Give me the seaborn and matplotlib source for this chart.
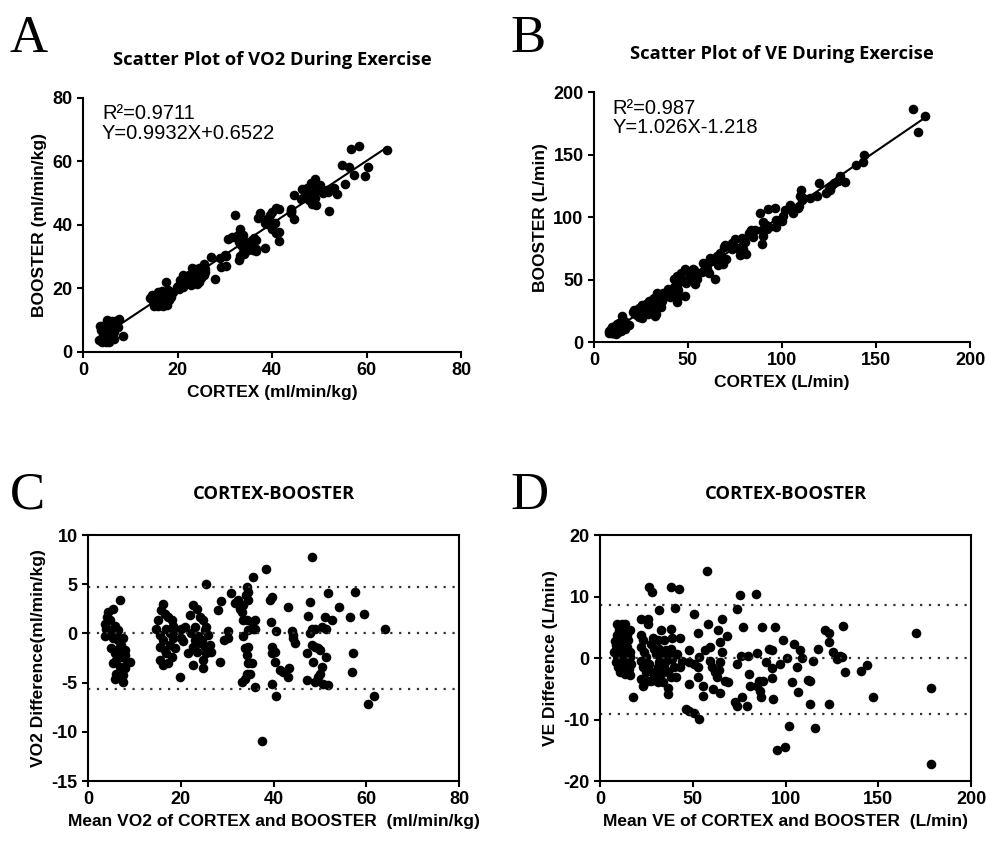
import matplotlib
matplotlib.use("Agg")
import matplotlib.pyplot as plt
import seaborn as sns
import pandas as pd

# VO2 (ml/min/kg): mean of CORTEX and BOOSTER, and CORTEX - BOOSTER
vo2_mean = [
    6.8, 5.4, 4.3, 4.0, 3.6, 3.8, 3.6, 4.7, 5.8, 6.1, 5.4, 6.5, 7.2, 7.6, 5.0, 5.8, 6.8,
    7.9, 6.1, 7.2, 5.4, 6.8, 8.3, 9.0, 7.9, 6.1, 5.8, 7.6, 7.6, 4.7, 6.5, 5.0, 6.8, 7.9,
    14.7, 15.5, 16.2, 15.8, 16.5, 17.3, 18.0, 16.9, 17.6, 16.2, 15.5, 16.5, 17.6, 18.3,
    19.0, 15.5, 16.2, 17.3, 18.0, 16.9, 18.7, 18.3, 20.1, 19.8, 20.1, 20.9, 20.5, 15.1,
    21.6, 21.9, 22.7, 23.4, 24.1, 23.0, 22.3, 23.7, 24.1, 22.7, 23.0, 24.8, 25.2, 25.5,
    25.9, 25.2, 26.3, 25.5, 24.8, 22.7, 24.8, 25.5, 24.5, 23.4, 26.6,
    28.1, 28.6, 28.5, 29.3, 30.2, 30.2, 30.9, 31.7, 32.4, 32.7, 33.5, 33.1, 34.2, 34.5,
    34.0, 34.5, 35.6, 33.5, 34.2, 35.3, 36.0, 35.6, 34.5, 33.5, 33.8, 34.5, 34.2, 34.5,
    35.3, 34.2, 34.9, 33.1, 33.8, 36.0, 36.0, 38.3, 39.2, 39.6, 39.4, 39.6, 39.6, 40.3,
    40.3, 40.6, 39.6, 40.6, 41.4, 42.0, 43.2, 43.0, 43.3, 43.9, 44.2, 44.2, 44.6, 37.6,
    48.2, 47.8, 47.5, 47.8, 48.2, 48.2, 48.9, 47.1, 48.4, 47.1, 48.9, 48.9, 49.6, 50.0,
    49.6, 50.0, 50.4, 50.4, 50.7, 51.1, 51.4, 51.8, 51.4, 51.8, 52.5, 54.2, 56.5, 57.5,
    57.2, 56.8, 59.4, 60.4, 61.7, 64.0,
]
vo2_diff = [
    3.4, 2.5, 2.2, 1.7, 1.0, 0.5, -0.3, 0.3, 0.8, 0.0, -0.5, -0.7, -1.2, -0.5, -1.5, -2.0, -1.9,
    -1.7, -2.7, -2.4, -3.0, -3.4, -2.9, -2.9, -3.5, -4.1, -4.6, -4.2, -4.9, 1.4, 0.3, -0.2, -1.4, -2.2,
    0.5, -0.2, 3.0, 2.4, 2.0, 1.7, 1.4, 0.5, 0.0, -0.7, -1.4, -1.7, -1.2, -0.5,
    0.3, -2.7, -3.2, -3.0, -2.4, -2.0, -1.5, 0.8, 0.5, -4.4, -0.5, 0.7, -0.8, 1.4,
    -2.0, 1.9, 2.9, 2.5, 1.7, 0.7, 0.0, -0.3, -1.0, -1.4, -0.7, 1.4, 0.3, 0.7,
    -0.2, -1.4, -1.2, -2.0, -2.7, -3.2, -3.5, 5.0, -0.7, -1.9, -1.9,
    2.4, 3.3, -2.9, -0.7, 0.2, -0.5, 4.1, 3.1, 3.4, 2.5, 2.9, 2.2, 4.7, 4.2,
    3.9, 3.4, 5.7, 1.4, 1.4, 1.2, 1.4, 0.5, 0.3, -0.3, -1.5, -1.4, -2.2, -3.0,
    -3.0, -4.1, -4.1, -4.9, -4.6, -5.4, 0.5, 6.5, 3.4, 3.7, 1.2, -1.4, -2.0, -1.9,
    -2.9, 0.2, -5.1, -6.4, -3.7, -3.9, 2.7, -4.4, -3.5, 0.2, -0.2, -0.5, -1.0, -10.9,
    7.8, 3.2, 1.8, 0.0, 0.5, -1.2, -1.4, -2.0, -2.9, -4.7, -4.9, 0.5, -1.5, -1.7,
    -4.4, -4.1, 0.7, -3.4, -5.1, 1.7, 0.5, 4.1, -2.4, -5.2, 1.4, 2.7, 1.7, 4.2,
    -2.0, -3.9, 2.0, -7.2, -6.4, 0.5,
]
vo2_loa = [4.7, 0.0, -5.65]

# VE (L/min): mean of CORTEX and BOOSTER, and CORTEX - BOOSTER
ve_mean = [
    9.0, 11.7, 13.5, 16.2, 9.0, 9.9, 8.6, 8.6, 9.0, 8.6, 11.1, 12.2, 11.7, 11.7, 12.6,
    13.5, 14.4, 13.5, 14.4, 14.0, 14.7, 11.7, 10.8, 13.5, 16.2, 16.2, 16.5, 16.2, 10.4,
    12.6, 10.8, 15.3, 9.9, 18.0, 7.5, 10.0, 12.8, 15.0, 9.5, 12.0, 14.2, 10.5, 13.0, 8.3, 15.5,
    22.2, 25.7, 25.7, 26.6, 27.8, 22.2, 23.0, 22.2, 23.9, 24.8, 22.2, 23.0, 22.2, 23.4,
    25.7, 24.8, 26.6, 27.5, 28.4, 29.3, 30.1, 28.4, 29.3, 27.5, 31.9, 31.0, 31.9, 32.8,
    31.9, 31.0, 32.8, 31.0, 33.7, 34.6, 35.5, 35.5, 34.6, 36.4, 36.4, 36.4, 38.1, 39.0,
    38.1, 38.1, 42.6, 40.4, 39.0, 39.9, 40.8, 38.1, 43.3, 43.3, 44.3, 37.2, 41.7, 32.8,
    48.2, 50.4, 48.2, 48.2, 50.9, 46.5, 48.2, 50.9, 53.2, 52.8, 52.8, 53.3, 52.8, 55.6,
    56.6, 55.6, 57.4, 59.2, 58.3, 59.2, 60.2, 60.7, 62.0, 62.9, 63.8, 64.6, 64.3, 64.6,
    65.5, 66.0, 64.6, 68.3, 67.4, 69.2,
    72.5, 73.7, 73.7, 73.7, 75.5, 75.8, 76.4, 76.9, 79.0, 80.0, 80.5, 80.9, 83.9, 84.4,
    84.8, 85.9, 86.3, 86.7, 87.2, 87.7, 89.5, 91.3, 92.5, 92.5, 92.5, 93.0, 94.4, 95.6,
    97.0, 98.5, 99.7, 100.6, 101.6,
    103.4, 104.6, 106.0, 106.9, 107.8, 109.0, 112.3, 113.2, 113.2, 115.0, 115.9, 117.7,
    121.3, 123.6, 123.6, 123.6, 125.8, 127.6, 129.4, 130.8, 130.2, 132.1, 140.6, 143.7,
    147.0, 170.2, 178.3, 178.3,
]
ve_diff = [
    5.5, 5.5, 5.5, 4.6, 3.7, 2.9, 2.1, 1.3, 0.4, -0.7, 4.0, 3.2, 2.1, 1.0, 0.2,
    4.5, 3.7, 2.6, 1.8, 0.8, -0.4, -0.9, -2.3, -2.6, -2.8, 1.0, -0.9, 0.2, 5.1,
    1.5, 2.6, 2.9, -0.1, -6.4, 1.0, 4.6, 4.2, 0.3, -1.4, -1.8, -1.3, 1.7, -0.3, 2.8, -1.8,
    6.3, 6.3, 5.6, 11.6, 10.8, 3.7, 2.9, 1.8, 1.0, 0.2, -0.4, -1.5, -3.4, -4.5,
    -3.7, -2.3, -0.9, 2.3, 3.2, 1.5, 0.7, -2.3, -3.1, -3.7, 7.8, 2.9, 1.5, 0.4,
    -0.7, -1.5, -2.6, -3.9, -3.9, 2.9, 1.3, -0.4, -1.5, -2.3, -4.8, -5.8, 4.8, 3.2,
    1.5, 11.6, 11.3, 8.2, -0.1, -1.5, -3.1, -3.1, 3.2, -1.5, -0.4, 0.2, 0.7, 4.5,
    1.3, 7.1, -0.7, -4.2, -0.9, -8.3, -8.6, -8.9, -9.9, 4.0, -1.5, 0.2, -3.1, -6.1,
    1.3, -4.5, 14.1, 1.8, 5.5, -0.4, -1.5, -5.0, -2.3, -3.1, 4.5, 2.6, -2.0, -5.7,
    6.3, 1.0, -0.7, 3.6, -3.7, -3.9,
    -7.2, 7.9, -0.9, -7.8, 10.3, 0.3, -6.4, 5.1, -7.8, 0.3, -2.6, -4.5, 10.4, 0.8,
    -4.5, -3.7, -5.3, -6.4, 5.1, -3.7, -0.7, 1.5, 1.3, -1.7, -3.2, -6.7, 5.0, -14.9,
    -0.9, 3.0, -14.4, 0.0, -11.0,
    -3.9, 2.3, -1.5, -5.6, 1.3, 0.0, -3.6, -3.8, -7.5, -0.4, -11.3, 1.5,
    4.5, 4.0, 2.6, -7.5, 1.0, -0.1, 0.4, 5.2, 0.2, -2.3, -2.1, -1.2,
    -6.3, 4.1, -4.9, -17.3,
]
ve_loa = [8.7, 0.0, -9.1]

vo2 = pd.DataFrame({"mean": vo2_mean, "diff": vo2_diff})
vo2["cortex"] = vo2["mean"] + vo2["diff"] / 2
vo2["booster"] = vo2["mean"] - vo2["diff"] / 2
ve = pd.DataFrame({"mean": ve_mean, "diff": ve_diff})
ve["cortex"] = ve["mean"] + ve["diff"] / 2
ve["booster"] = ve["mean"] - ve["diff"] / 2

sns.set_theme(style="ticks")
plt.rcParams["font.family"] = ["Liberation Sans", "DejaVu Sans"]
plt.rcParams["font.weight"] = "bold"
plt.rcParams["axes.labelweight"] = "bold"
plt.rcParams["axes.unicode_minus"] = False
for key in ["text.color", "axes.labelcolor", "axes.edgecolor", "xtick.color", "ytick.color"]:
    plt.rcParams[key] = "black"
plt.rcParams["axes.linewidth"] = 1.5
plt.rcParams["xtick.major.width"] = 1.5
plt.rcParams["ytick.major.width"] = 1.5
plt.rcParams["xtick.major.size"] = 4
plt.rcParams["ytick.major.size"] = 4
plt.rcParams["xtick.labelsize"] = 13
plt.rcParams["ytick.labelsize"] = 13
plt.rcParams["axes.labelsize"] = 12.5

fig = plt.figure(figsize=(9.87, 8.41), dpi=100)
ax_a = fig.add_axes([0.0841, 0.5815, 0.383, 0.302])
ax_b = fig.add_axes([0.6018, 0.5933, 0.381, 0.297])
ax_c = fig.add_axes([0.0892, 0.0713, 0.376, 0.2925])
ax_d = fig.add_axes([0.6079, 0.0713, 0.376, 0.2925])

title_kw = dict(family="Open Sans", fontweight="bold", fontsize=13.2)
dot_kw = dict(color="black", s=48, linewidth=0, legend=False)

# scatter plots with fitted line
for ax, df, lim, step, unit, title, stats in [
    (ax_a, vo2, 80, 20, "(ml/min/kg)", "Scatter Plot of VO2 During Exercise",
     "R\u00b2=0.9711\nY=0.9932X+0.6522"),
    (ax_b, ve, 200, 50, "(L/min)", "Scatter Plot of VE During Exercise",
     "R\u00b2=0.987\nY=1.026X-1.218"),
]:
    sns.scatterplot(data=df, x="cortex", y="booster", ax=ax, **dot_kw)
    sns.regplot(data=df, x="cortex", y="booster", ax=ax, scatter=False, ci=None,
                color="black", line_kws=dict(linewidth=1.5))
    ax.set_xlim(0, lim)
    ax.set_ylim(0, lim)
    ax.set_xticks(range(0, lim + 1, step))
    ax.set_yticks(range(0, lim + 1, step))
    ax.set_xlabel("CORTEX " + unit)
    ax.set_ylabel("BOOSTER " + unit)
    ax.set_title(title, pad=24, **title_kw)
    ax.text(0.05, 0.975, stats, transform=ax.transAxes, va="top", ha="left",
            fontsize=14.5, fontweight="normal", linespacing=1.05)
    sns.despine(ax=ax)

# Bland-Altman plots
for ax, df, xlim, xstep, ylim, ystep, loa, name, unit, ylab in [
    (ax_c, vo2, 80, 20, (-15, 10), 5, vo2_loa, "VO2", "(ml/min/kg)",
     "VO2 Difference(ml/min/kg)"),
    (ax_d, ve, 200, 50, (-20, 20), 10, ve_loa, "VE", "(L/min)",
     "VE Difference (L/min)"),
]:
    sns.scatterplot(data=df, x="mean", y="diff", ax=ax, **dot_kw)
    for v in loa:
        ax.axhline(v, color="#333333", linewidth=1.6, linestyle=(0, (1, 3)), zorder=1)
    ax.set_xlim(0, xlim)
    ax.set_ylim(*ylim)
    ax.set_xticks(range(0, xlim + 1, xstep))
    ax.set_yticks(range(ylim[0], ylim[1] + 1, ystep))
    ax.set_xlabel(f"Mean {name} of CORTEX and BOOSTER  {unit}")
    ax.set_ylabel(ylab)
    ax.set_title("CORTEX-BOOSTER", pad=26, **title_kw)

for letter, x, y in [("A", 0.010, 0.938), ("B", 0.517, 0.938),
                     ("C", 0.010, 0.395), ("D", 0.517, 0.395)]:
    fig.text(x, y, letter, family="Liberation Serif", fontweight="normal",
             fontsize=38, ha="left", va="baseline")

fig.savefig("out.png", dpi=100)
